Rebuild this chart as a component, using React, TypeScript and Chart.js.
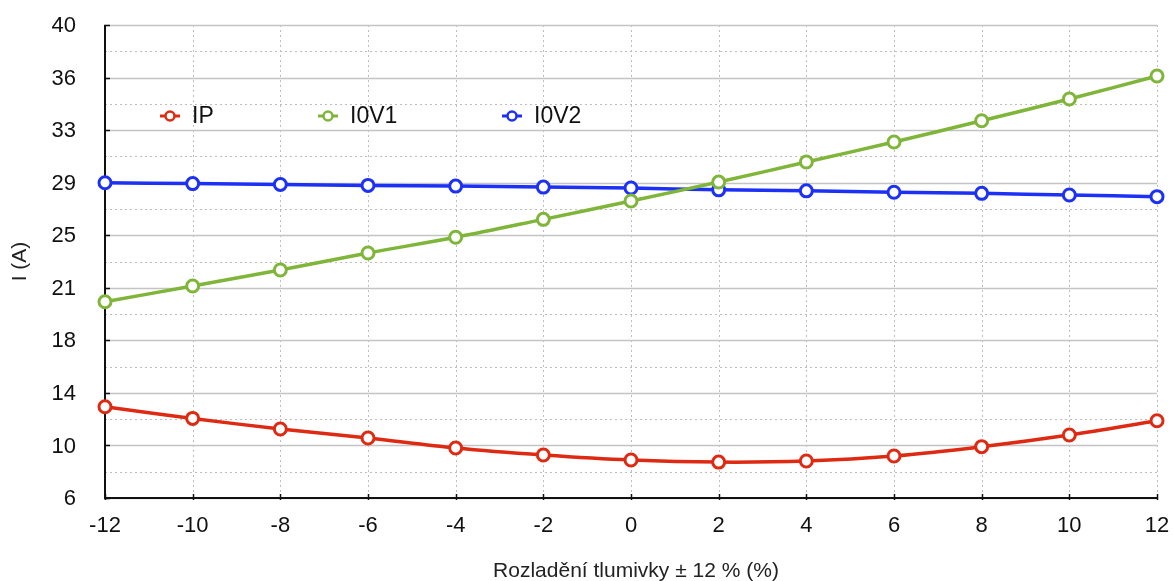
import React, { useEffect, useRef } from 'react';
import { Chart, registerables } from 'chart.js';
Chart.register(...registerables);

const xValues = [-12, -10, -8, -6, -4, -2, 0, 2, 4, 6, 8, 10, 12];
const ipValues = [12.56, 11.72, 10.96, 10.31, 9.59, 9.09, 8.73, 8.58, 8.66, 9.02, 9.69, 10.53, 11.55];
const i0v1Values = [20.11, 21.24, 22.39, 23.61, 24.74, 26.03, 27.35, 28.71, 30.15, 31.59, 33.12, 34.68, 36.33];
const i0v2Values = [28.66, 28.6, 28.54, 28.47, 28.42, 28.35, 28.28, 28.15, 28.08, 27.98, 27.9, 27.78, 27.66];
const xTickLabels = ['-12', '-10', '-8', '-6', '-4', '-2', '0', '2', '4', '6', '8', '10', '12'];
const yTickLabels = ['6', '10', '14', '18', '21', '25', '29', '33', '36', '40'];
const seriesNames = ['IP', 'I0V1', 'I0V2'];
const seriesColors = ['#de2a12', '#7fb539', '#1c31f5'];
const yMin = 6;
const yMax = 40;
const xTitle = 'Rozladění tlumivky ± 12 % (%)';
const yTitle = 'I (A)';
const FONT = '"Liberation Sans", Arial, Helvetica, sans-serif';

const yTickValues = (() => {
  const n = (yTickLabels.length - 1) * 2;
  const arr: number[] = [];
  for (let i = 0; i <= n; i++) arr.push(yMin + ((yMax - yMin) * i) / n);
  return arr;
})();

const decorPlugin = {
  id: 'decor',
  beforeDatasetsDraw(chart: any) {
    const { ctx, chartArea, scales } = chart;
    const { left, right, top, bottom } = chartArea;
    const xs = scales.x;
    const ys = scales.y;
    ctx.save();
    ctx.strokeStyle = '#bdbdbd';
    ctx.lineWidth = 1;
    ctx.setLineDash([2, 3]);
    xValues.forEach((v) => {
      const px = Math.round(xs.getPixelForValue(v)) + 0.5;
      ctx.beginPath();
      ctx.moveTo(px, top);
      ctx.lineTo(px, bottom);
      ctx.stroke();
    });
    yTickValues.forEach((v, i) => {
      const py = Math.round(ys.getPixelForValue(v)) + 0.5;
      if (i % 2 === 0) {
        ctx.setLineDash([]);
        ctx.strokeStyle = '#c4c4c4';
        ctx.lineWidth = 1.5;
      } else {
        ctx.setLineDash([2, 3]);
        ctx.strokeStyle = '#bdbdbd';
        ctx.lineWidth = 1;
      }
      ctx.beginPath();
      ctx.moveTo(left, py);
      ctx.lineTo(right, py);
      ctx.stroke();
    });
    ctx.setLineDash([]);
    ctx.strokeStyle = '#111';
    ctx.lineWidth = 2;
    ctx.beginPath();
    ctx.moveTo(left, top);
    ctx.lineTo(left, bottom);
    ctx.lineTo(right, bottom);
    ctx.stroke();
    ctx.lineWidth = 1.5;
    yTickValues.forEach((v, i) => {
      if (i % 2 !== 0) return;
      const py = Math.round(ys.getPixelForValue(v)) + 0.5;
      ctx.beginPath();
      ctx.moveTo(left - 1, py);
      ctx.lineTo(left + 5, py);
      ctx.stroke();
    });
    xValues.forEach((v) => {
      const px = Math.round(xs.getPixelForValue(v)) + 0.5;
      ctx.beginPath();
      ctx.moveTo(px, bottom - 4);
      ctx.lineTo(px, bottom + 2);
      ctx.stroke();
    });
    // tick labels
    ctx.fillStyle = '#111';
    ctx.font = `22px ${FONT}`;
    ctx.textAlign = 'right';
    ctx.textBaseline = 'middle';
    yTickValues.forEach((v, i) => {
      if (i % 2 !== 0) return;
      ctx.fillText(yTickLabels[i / 2], left - 29, ys.getPixelForValue(v) + 1);
    });
    ctx.textAlign = 'center';
    xValues.forEach((v, i) => {
      ctx.fillText(xTickLabels[i], xs.getPixelForValue(v), bottom + 28);
    });
    ctx.restore();
  },
  afterDatasetsDraw(chart: any) {
    const { ctx, chartArea } = chart;
    const { left, right, top, bottom } = chartArea;
    ctx.save();
    const legendX = [65, 223, 407];
    const ly = top + 91;
    ctx.font = `23px ${FONT}`;
    ctx.textBaseline = 'middle';
    ctx.textAlign = 'left';
    seriesNames.forEach((name, i) => {
      const cx = left + legendX[i];
      ctx.strokeStyle = seriesColors[i];
      ctx.lineWidth = 3;
      ctx.beginPath();
      ctx.moveTo(cx - 10, ly);
      ctx.lineTo(cx + 10, ly);
      ctx.stroke();
      ctx.beginPath();
      ctx.arc(cx, ly, 4.5, 0, Math.PI * 2);
      ctx.fillStyle = '#fff';
      ctx.fill();
      ctx.lineWidth = 2.5;
      ctx.stroke();
      ctx.fillStyle = '#111';
      ctx.fillText(name, cx + 22, ly + 1);
    });
    ctx.font = `21px ${FONT}`;
    ctx.fillStyle = '#222';
    ctx.textAlign = 'center';
    ctx.textBaseline = 'middle';
    ctx.fillText(xTitle, (left + right) / 2 + 5, 571);
    ctx.translate(20, (top + bottom) / 2);
    ctx.rotate(-Math.PI / 2);
    ctx.fillText(yTitle, 0, 0);
    ctx.restore();
  },
};

export default function App() {
  const ref = useRef<HTMLCanvasElement | null>(null);
  useEffect(() => {
    if (!ref.current) return;
    const mk = (vals: number[], i: number) => ({
      label: seriesNames[i],
      data: xValues.map((x, k) => ({ x, y: vals[k] })),
      borderColor: seriesColors[i],
      backgroundColor: '#fff',
      pointBackgroundColor: '#fff',
      pointBorderColor: seriesColors[i],
      pointBorderWidth: 3,
      pointRadius: 6,
      borderWidth: 3.5,
      tension: 0.35,
      clip: false as any,
    });
    const chart = new Chart(ref.current, {
      type: 'line',
      data: {
        datasets: [mk(ipValues, 0), mk(i0v1Values, 1), mk(i0v2Values, 2)],
      },
      options: {
        animation: false,
        responsive: true,
        maintainAspectRatio: false,
        layout: { autoPadding: false, padding: { top: 25, right: 16, left: 0, bottom: 0 } },
        plugins: { legend: { display: false }, tooltip: { enabled: false } },
        scales: {
          x: {
            type: 'linear',
            min: -12,
            max: 12,
            afterBuildTicks: (s: any) => {
              s.ticks = xValues.map((v) => ({ value: v }));
            },
            afterFit: (s: any) => {
              s.height = 83;
            },
            grid: { display: false, drawTicks: false },
            border: { display: false },
            ticks: { display: false },
          },
          y: {
            type: 'linear',
            min: yMin,
            max: yMax,
            afterBuildTicks: (s: any) => {
              s.ticks = yTickValues.map((v) => ({ value: v }));
            },
            afterFit: (s: any) => {
              s.width = 105;
            },
            grid: { display: false, drawTicks: false },
            border: { display: false },
            ticks: { display: false },
          },
        },
      },
      plugins: [decorPlugin],
    });
    return () => chart.destroy();
  }, []);
  return (
    <div style={{ position: 'absolute', left: 0, top: 0, width: 1173, height: 581, background: '#fff' }}>
      <canvas ref={ref} />
    </div>
  );
}
